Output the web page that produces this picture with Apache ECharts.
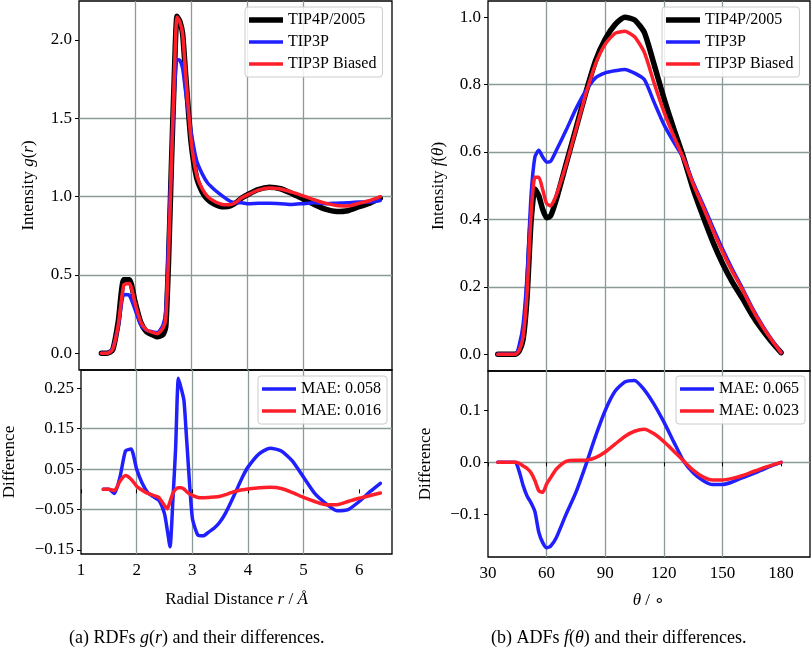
<!DOCTYPE html>
<html>
<head>
<meta charset="utf-8">
<script src="https://cdn.jsdelivr.net/npm/echarts@6.0.0/dist/echarts.min.js"></script>
<style>
  html, body { margin: 0; padding: 0; background: #fff; }
  #chart { width: 812px; height: 652px; }
</style>
</head>
<body>
<div id="chart"></div>
<script>
// radial distance grid (Å) and RDF curves
const rValues = [1.4, 1.5, 1.6, 1.7, 1.8, 1.9, 2.0, 2.1, 2.2, 2.3, 2.4, 2.5, 2.55, 2.6, 2.65, 2.7, 2.75, 2.8, 2.85, 2.9,
  3.0, 3.1, 3.2, 3.3, 3.4, 3.5, 3.6, 3.7, 3.8, 3.9, 4.0, 4.2, 4.4, 4.6, 4.8, 5.0, 5.2, 5.4, 5.6, 5.8, 6.0, 6.2, 6.38];
const rdfTip4p = [0, 0, 0.02, 0.2, 0.47, 0.47, 0.33, 0.2, 0.14, 0.12, 0.105, 0.12, 0.17, 0.6, 1.2, 1.75, 2.15, 2.12, 2.04, 1.8,
  1.35, 1.12, 1.03, 0.98, 0.955, 0.94, 0.935, 0.94, 0.96, 0.99, 1.01, 1.045, 1.06, 1.05, 1.02, 0.985, 0.95, 0.92, 0.905, 0.91, 0.935, 0.96, 0.99];
const rdfTip3p = [0, 0, 0.03, 0.17, 0.375, 0.37, 0.28, 0.185, 0.148, 0.138, 0.132, 0.18, 0.27, 0.74, 1.23, 1.65, 1.875, 1.87, 1.82, 1.68,
  1.42, 1.23, 1.145, 1.085, 1.05, 1.02, 0.993, 0.97, 0.96, 0.96, 0.955, 0.957, 0.958, 0.955, 0.95, 0.955, 0.96, 0.955, 0.958, 0.96, 0.965, 0.965, 0.975];
const rdfBiased = [0, 0, 0.023, 0.18, 0.436, 0.445, 0.322, 0.202, 0.15, 0.135, 0.125, 0.16, 0.22, 0.63, 1.21, 1.75, 2.146, 2.116, 2.04, 1.806,
  1.365, 1.14, 1.05, 1.0, 0.974, 0.957, 0.948, 0.948, 0.964, 0.991, 1.009, 1.041, 1.055, 1.048, 1.028, 1.005, 0.98, 0.958, 0.943, 0.94, 0.957, 0.975, 0.999];
const rdfDiffTip3p = [0, 0, -0.01, 0.03, 0.095, 0.1, 0.05, 0.015, -0.008, -0.018, -0.027, -0.06, -0.1, -0.142, -0.03, 0.1, 0.275, 0.25, 0.22, 0.12,
  -0.07, -0.113, -0.115, -0.105, -0.095, -0.08, -0.058, -0.03, 0.0, 0.03, 0.055, 0.088, 0.102, 0.095, 0.07, 0.03, -0.01, -0.035, -0.053, -0.05, -0.03, -0.005, 0.015];
const rdfDiffBiased = [0, 0, -0.003, 0.02, 0.034, 0.025, 0.008, -0.002, -0.01, -0.015, -0.02, -0.04, -0.048, -0.03, -0.01, 0.0, 0.004, 0.004, 0.001, -0.006,
  -0.015, -0.02, -0.021, -0.02, -0.019, -0.017, -0.013, -0.008, -0.004, -0.001, 0.001, 0.004, 0.005, 0.002, -0.008, -0.02, -0.03, -0.038, -0.038, -0.03, -0.022, -0.015, -0.009];

// angle grid (degrees) and ADF curves
const thetaValues = [35, 40, 44, 46, 48, 50, 52, 54, 56, 58, 60, 62, 65, 70, 75, 80, 85, 90, 95, 100, 105, 110,
  115, 120, 125, 130, 135, 140, 145, 150, 155, 160, 165, 170, 175, 180];
const adfTip4p = [0, 0, 0, 0.01, 0.045, 0.17, 0.39, 0.49, 0.47, 0.43, 0.405, 0.41, 0.46, 0.565, 0.67, 0.775, 0.87, 0.935, 0.978, 1.0, 0.992, 0.955,
  0.86, 0.76, 0.67, 0.585, 0.49, 0.41, 0.335, 0.27, 0.215, 0.168, 0.118, 0.075, 0.038, 0.005];
const adfTip3p = [0, 0, 0, 0.028, 0.09, 0.235, 0.468, 0.585, 0.605, 0.585, 0.57, 0.572, 0.605, 0.665, 0.728, 0.781, 0.82, 0.835, 0.841, 0.845, 0.834, 0.815,
  0.748, 0.682, 0.63, 0.582, 0.51, 0.445, 0.378, 0.313, 0.253, 0.198, 0.141, 0.09, 0.045, 0.005];
const adfBiased = [0, 0, 0, 0.012, 0.052, 0.182, 0.41, 0.525, 0.525, 0.488, 0.447, 0.44, 0.473, 0.563, 0.666, 0.771, 0.861, 0.92, 0.952, 0.958, 0.942, 0.896,
  0.805, 0.72, 0.648, 0.582, 0.505, 0.438, 0.369, 0.304, 0.246, 0.194, 0.137, 0.087, 0.044, 0.005];
const adfDiffTip3p = [0, 0, 0, -0.018, -0.045, -0.065, -0.078, -0.095, -0.135, -0.155, -0.165, -0.162, -0.145, -0.1, -0.058, -0.006, 0.05, 0.1, 0.137, 0.155, 0.158, 0.14,
  0.112, 0.078, 0.04, 0.003, -0.02, -0.035, -0.043, -0.043, -0.038, -0.03, -0.023, -0.015, -0.007, 0];
const adfDiffBiased = [0, 0, 0, -0.002, -0.007, -0.012, -0.02, -0.035, -0.055, -0.058, -0.042, -0.03, -0.013, 0.002, 0.004, 0.004, 0.009, 0.02, 0.035, 0.05, 0.06, 0.064,
  0.055, 0.04, 0.022, 0.003, -0.015, -0.028, -0.034, -0.034, -0.031, -0.026, -0.019, -0.012, -0.006, 0];

// tick labels
const rTicks = [1, 2, 3, 4, 5, 6];
const thetaTicks = [30, 60, 90, 120, 150, 180];
const rdfTicks = [0, 0.5, 1.0, 1.5, 2.0];
const rdfDiffTicks = [-0.15, -0.05, 0.05, 0.15, 0.25];
const adfTicks = [0, 0.2, 0.4, 0.6, 0.8, 1.0];
const adfDiffTicks = [-0.1, 0, 0.1];

const mainNames = ['TIP4P/2005', 'TIP3P', 'TIP3P Biased'];
const rdfMae = ['MAE: 0.058', 'MAE: 0.016'];
const adfMae = ['MAE: 0.065', 'MAE: 0.023'];

const FONT = 'Liberation Serif';
const GRIDC = '#8a9a99';
const BLACK = '#000000', BLUE = '#1f1fff', RED = '#ff1f2a';
const THICK = 5.5, THIN = 3.5;

function pairs(xs, ys) { return xs.map((x, i) => [x, ys[i]]); }
function fmt(d) { return v => v.toFixed(d).replace('-', '\u2212'); }
// flat bar used as the legend sample, as thick as the line it stands for
function bar(w) { return 'path://M0,0H34V' + w + 'H0Z'; }

const rich = {
  n: { fontFamily: FONT, fontSize: 17, fontWeight: 'normal', color: '#000' },
  i: { fontFamily: FONT, fontSize: 17, fontWeight: 'normal', color: '#000', fontStyle: 'italic' }
};
const capRich = {
  n: { fontFamily: FONT, fontSize: 18, fontWeight: 'normal', color: '#000' },
  i: { fontFamily: FONT, fontSize: 18, fontWeight: 'normal', color: '#000', fontStyle: 'italic' }
};

function xAxisOf(gridIndex, min, max, interval, ticks, withLabels, name, nameGap) {
  return {
    type: 'value', gridIndex: gridIndex, min: min, max: max, interval: interval,
    axisLine: { show: false },
    axisTick: { show: withLabels, length: 4, customValues: ticks, lineStyle: { color: '#000', width: 1 } },
    axisLabel: { show: withLabels, customValues: ticks, margin: 8, fontFamily: FONT, fontSize: 17, color: '#000' },
    splitLine: { show: true, showMinLine: false, showMaxLine: false, lineStyle: { color: GRIDC, width: 1.3 } },
    name: name || '', nameLocation: 'middle', nameGap: nameGap || 0,
    nameTextStyle: { rich: rich }
  };
}

function yAxisOf(gridIndex, min, max, ticks, digits, name, nameGap) {
  return {
    type: 'value', gridIndex: gridIndex, min: min, max: max,
    axisLine: { show: false },
    axisTick: { show: true, length: 4, customValues: ticks, lineStyle: { color: '#000', width: 1 } },
    axisLabel: { customValues: ticks, margin: 7, fontFamily: FONT, fontSize: 17, color: '#000', formatter: fmt(digits) },
    splitLine: { show: true, showMinLine: false, showMaxLine: false, lineStyle: { color: GRIDC, width: 1.3 } },
    name: name, nameLocation: 'middle', nameRotate: 90, nameGap: nameGap,
    nameTextStyle: { rich: rich }
  };
}

function lineSeries(name, xi, yi, data, color, width, z) {
  return {
    name: name, type: 'line', xAxisIndex: xi, yAxisIndex: yi, data: data,
    showSymbol: false, symbol: 'none', smooth: 0.2, z: z,
    lineStyle: { color: color, width: width, cap: 'round', join: 'round' },
    itemStyle: { color: color }
  };
}

function legendOf(names, widths, left, top) {
  return {
    data: names.map((n, i) => ({ name: n, icon: bar(widths[i]) })),
    left: left, top: top, orient: 'vertical',
    itemWidth: 34, itemHeight: 14, itemGap: 6,
    padding: [5, 6, 5, 4],
    backgroundColor: 'rgba(255,255,255,0.85)', borderColor: '#cccccc', borderWidth: 1, borderRadius: 3,
    textStyle: { fontFamily: FONT, fontSize: 16, color: '#000' }
  };
}

const gridBase = { show: true, borderColor: '#000', borderWidth: 1.3, backgroundColor: 'transparent', containLabel: false };

const option = {
  animation: false,
  backgroundColor: '#ffffff',
  title: [
    { text: '{n|(a) RDFs }{i|g}{n|(}{i|r}{n|) and their differences.}', left: 69, top: 629, padding: 0,
      textStyle: { fontWeight: 'normal', rich: capRich } },
    { text: '{n|(b) ADFs }{i|f}{n|(}{i|θ}{n|) and their differences.}', left: 491, top: 629, padding: 0,
      textStyle: { fontWeight: 'normal', rich: capRich } }
  ],
  grid: [
    Object.assign({ left: 79, top: 1, width: 313, height: 369 }, gridBase),
    Object.assign({ left: 79, top: 370, width: 313, height: 184 }, gridBase),
    Object.assign({ left: 488, top: 1, width: 322, height: 370 }, gridBase),
    Object.assign({ left: 488, top: 371, width: 322, height: 186 }, gridBase)
  ],
  xAxis: [
    xAxisOf(0, 1, 6.589, 1, rTicks, false),
    xAxisOf(1, 1, 6.589, 1, rTicks, true, '{n|Radial Distance }{i|r}{n| / }{i|Å}', 37),
    xAxisOf(2, 30, 194.8, 30, thetaTicks, false),
    xAxisOf(3, 30, 194.8, 30, thetaTicks, true, '{i|θ}{n| / ∘}', 35)
  ],
  yAxis: [
    yAxisOf(0, -0.1066, 2.248, rdfTicks, 1, '{n|Intensity }{i|g}{n|(}{i|r}{n|)}', 42),
    yAxisOf(1, -0.1599, 0.2953, rdfDiffTicks, 2, '{n|Difference}', 63),
    yAxisOf(2, -0.0496, 1.048, adfTicks, 1, '{n|Intensity }{i|f}{n|(}{i|θ}{n|)}', 41),
    yAxisOf(3, -0.1828, 0.1763, adfDiffTicks, 1, '{n|Difference}', 54)
  ],
  legend: [
    legendOf(mainNames, [THICK, THIN, THIN], 245, 7),
    legendOf(rdfMae, [THIN, THIN], 258, 376),
    legendOf(mainNames, [THICK, THIN, THIN], 662, 7),
    legendOf(adfMae, [THIN, THIN], 676, 376)
  ],
  series: [
    lineSeries(mainNames[0], 0, 0, pairs(rValues, rdfTip4p), BLACK, THICK, 2),
    lineSeries(mainNames[1], 0, 0, pairs(rValues, rdfTip3p), BLUE, THIN, 3),
    lineSeries(mainNames[2], 0, 0, pairs(rValues, rdfBiased), RED, THIN, 4),
    lineSeries(rdfMae[0], 1, 1, pairs(rValues, rdfDiffTip3p), BLUE, THIN, 3),
    lineSeries(rdfMae[1], 1, 1, pairs(rValues, rdfDiffBiased), RED, THIN, 4),
    lineSeries(mainNames[0], 2, 2, pairs(thetaValues, adfTip4p), BLACK, THICK, 2),
    lineSeries(mainNames[1], 2, 2, pairs(thetaValues, adfTip3p), BLUE, THIN, 3),
    lineSeries(mainNames[2], 2, 2, pairs(thetaValues, adfBiased), RED, THIN, 4),
    lineSeries(adfMae[0], 3, 3, pairs(thetaValues, adfDiffTip3p), BLUE, THIN, 3),
    lineSeries(adfMae[1], 3, 3, pairs(thetaValues, adfDiffBiased), RED, THIN, 4)
  ]
};

const chart = echarts.init(document.getElementById('chart'), null, { renderer: 'canvas' });
chart.setOption(option);
</script>
</body>
</html>
